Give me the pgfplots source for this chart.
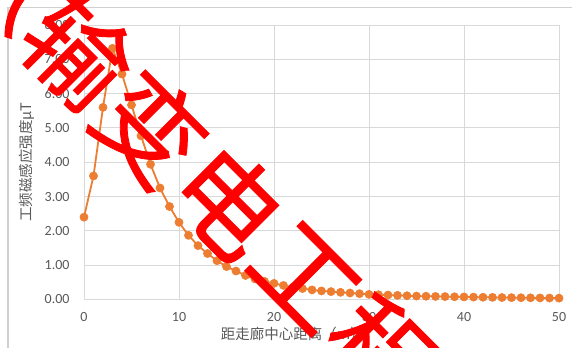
\documentclass[border=0pt]{standalone}
\usepackage{fontspec}
\usepackage{pgfplots}
\pgfplotsset{compat=1.18}
\setmainfont{Carlito}
\newfontfamily\cjk{Noto Sans CJK SC}
\newfontfamily\wmfont[FakeBold=0.8]{Noto Sans CJK SC}
\definecolor{axgray}{HTML}{595959}
\definecolor{gridgray}{HTML}{D9D9D9}
\definecolor{frameGray}{HTML}{D0D0D0}
\definecolor{excelorange}{HTML}{ED7D31}
\definecolor{wmred}{HTML}{FF0000}

% magnetic induction vs. distance from corridor centre
\pgfplotstableread{
x   b
0   2.40
1   3.60
2   5.60
3   7.32
4   6.57
5   5.67
6   4.77
7   3.94
8   3.25
9   2.71
10  2.25
11  1.87
12  1.57
13  1.34
14  1.13
15  0.96
16  0.83
17  0.70
18  0.60
19  0.53
20  0.47
21  0.41
22  0.36
23  0.32
24  0.28
25  0.25
26  0.23
27  0.21
28  0.19
29  0.17
30  0.15
31  0.14
32  0.13
33  0.12
34  0.11
35  0.10
36  0.095
37  0.09
38  0.085
39  0.08
40  0.075
41  0.07
42  0.066
43  0.062
44  0.058
45  0.055
46  0.052
47  0.049
48  0.046
49  0.043
50  0.04
}\fielddata

\begin{document}
\begin{tikzpicture}[x=1bp,y=1bp]
\useasboundingbox (0,0) rectangle (572,347);
\fill[white] (0,0) rectangle (572,347);
\draw[frameGray, line width=1.2bp] (8,-2) -- (8,339.7) -- (574,339.7);
\begin{axis}[
  at={(84bp,47.5bp)}, anchor=south west,
  scale only axis, width=475bp, height=274.5bp,
  xmin=0, xmax=50, ymin=0, ymax=8,
  xtick={0,10,...,50}, ytick={0,1,...,8},
  axis line style={draw=none},
  major tick length=0,
  grid=major, major grid style={gridgray, line width=0.9bp},
  /pgf/number format/assume math mode=true,
  ticklabel style={font=\fontsize{14bp}{16bp}\selectfont, text=axgray},
  yticklabel={\pgfmathprintnumber[fixed,fixed zerofill,precision=2,assume math mode=true]{\tick}},
  yticklabel style={xshift=-11bp},
  xticklabel style={yshift=-9bp},
  xlabel={\cjk 距走廊中心距离（m）},
  ylabel={\cjk 工频磁感应强度μT},
  x label style={at={(axis description cs:0.2878,-0.1239)}, anchor=west, inner sep=0pt,
    font=\fontsize{14.5bp}{16bp}\selectfont, text=axgray},
  y label style={at={(axis description cs:-0.12,0.5)}, anchor=center, inner sep=0pt,
    font=\fontsize{14.5bp}{16bp}\selectfont, text=axgray},
  clip=false,
]
\addplot[excelorange, line width=1.8bp, mark=*, mark size=4.1bp,
  mark options={fill=excelorange, draw=excelorange, line width=0.5bp}]
  table[x=x, y=b] {\fielddata};
\end{axis}
% diagonal red overlay text
\begin{scope}[every node/.style={rotate=-45, text=wmred, inner sep=0pt,
    font=\wmfont\fontsize{105bp}{105bp}\selectfont}]
\node at (11,375) {（};
\node at (78,296) {输};
\node at (151,219) {变};
\node at (229,146) {电};
\node at (305,70) {工};
\node at (381,-6) {程};
\end{scope}
\end{tikzpicture}
\end{document}
